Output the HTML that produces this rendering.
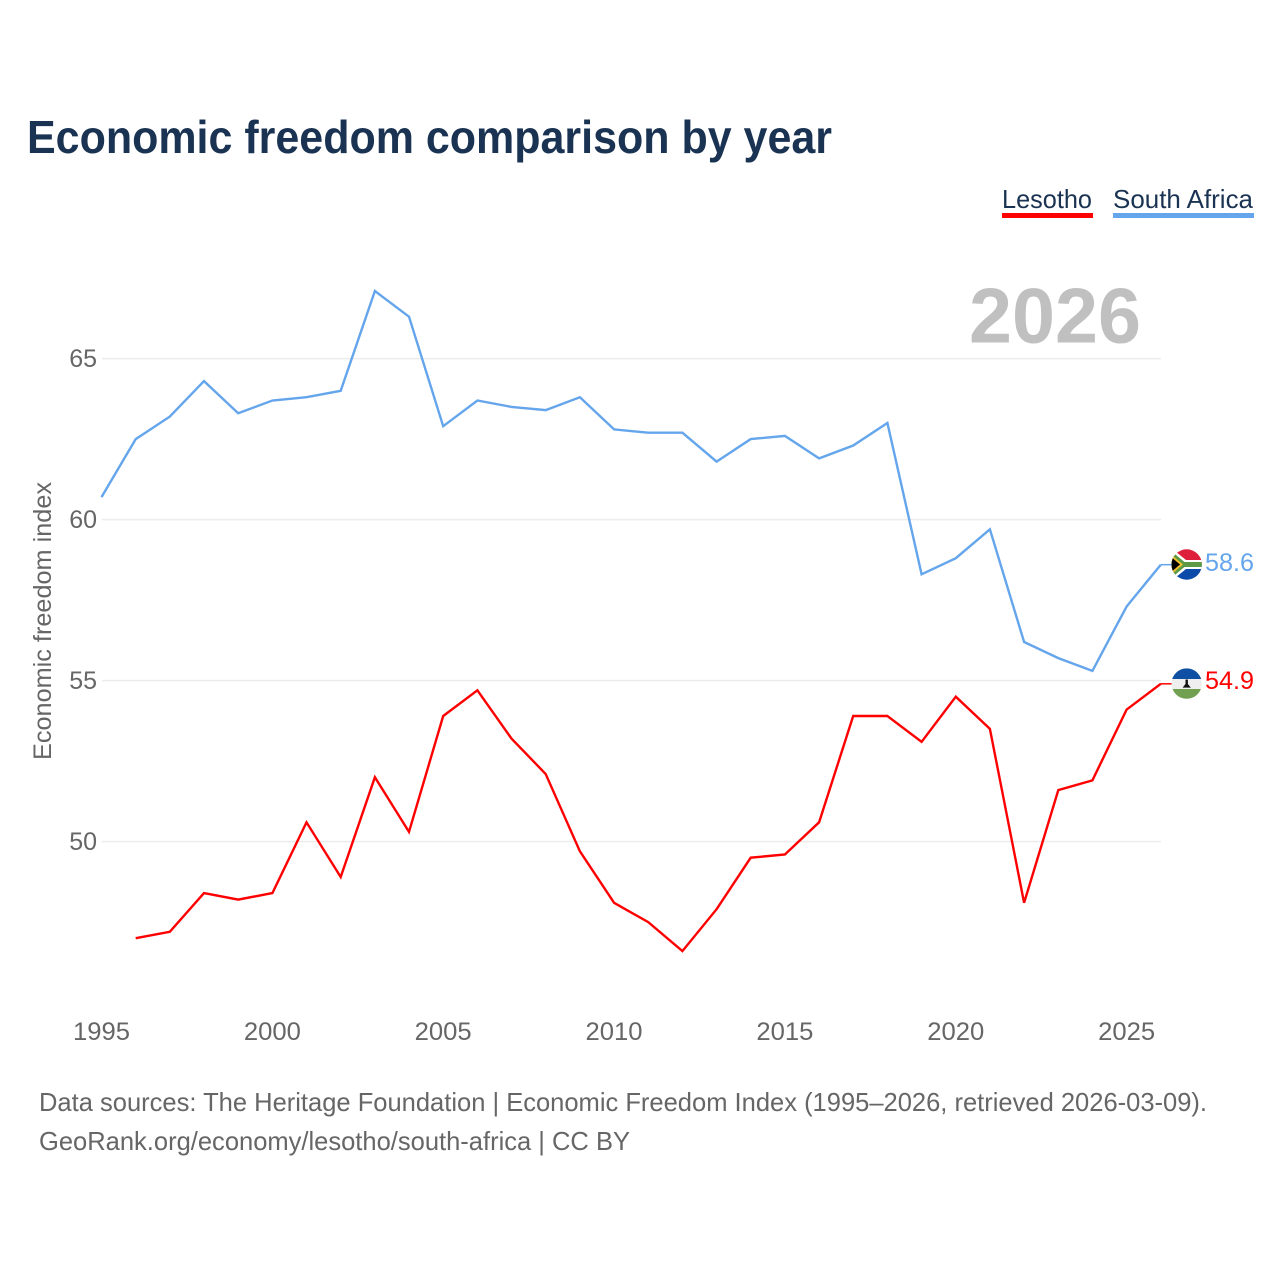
<!DOCTYPE html>
<html lang="en">
<head>
<meta charset="utf-8">
<title>Economic freedom comparison by year</title>
<style>
html,body{margin:0;padding:0;background:#fff;width:1280px;height:1280px;overflow:hidden}
svg{display:block}
text{font-family:"Liberation Sans",sans-serif}
</style>
</head>
<body>
<svg id="chart" xmlns="http://www.w3.org/2000/svg" width="1280" height="1280" viewBox="0 0 1280 1280">
  <defs>
    <clipPath id="clip-za"><circle cx="1186.7" cy="564.5" r="15.2"/></clipPath>
    <clipPath id="clip-ls"><circle cx="1186.7" cy="683.6" r="15.2"/></clipPath>
  </defs>
  <rect x="0" y="0" width="1280" height="1280" fill="#fff"/>
  <text x="27" y="153" font-size="46" font-weight="700" fill="#1a3352" textLength="805" lengthAdjust="spacingAndGlyphs">Economic freedom comparison by year</text>

  <text x="1002" y="208" font-size="26" fill="#1a3352" textLength="90" lengthAdjust="spacingAndGlyphs">Lesotho</text>
  <rect x="1002" y="213" width="91" height="5" fill="#ff0000"/>
  <text x="1113" y="208" font-size="26" fill="#1a3352" textLength="140" lengthAdjust="spacingAndGlyphs">South Africa</text>
  <rect x="1113" y="213" width="141" height="5" fill="#64a5ec"/>

  <text x="1141" y="342.5" font-size="78" font-weight="700" fill="#c0c0c0" text-anchor="end" textLength="172" lengthAdjust="spacingAndGlyphs">2026</text>

  <g id="grid"></g>
  <g id="yticks"></g>
  <g id="xticks"></g>
  <text transform="translate(51,621) rotate(-90)" font-size="25" fill="#666" text-anchor="middle" textLength="278" lengthAdjust="spacingAndGlyphs">Economic freedom index</text>

  <g id="series"></g>

  <g clip-path="url(#clip-za)">
    <rect x="1170" y="548" width="34" height="16.5" fill="#de1f3c"/>
    <rect x="1170" y="564.5" width="34" height="16.5" fill="#0a4aa8"/>
    <path d="M1170 547 L1186 560 H1204 V569 H1186 L1170 582 Z" fill="#fff"/>
    <path d="M1170 550 L1184.5 562 H1204 V567 H1184.5 L1170 579 Z" fill="#5d9a45"/>
    <path d="M1170 553.5 L1183 564.5 L1170 575.5 Z" fill="#f5c02c"/>
    <path d="M1170 556 L1180 564.5 L1170 573 Z" fill="#000"/>
  </g>
  <g clip-path="url(#clip-ls)">
    <rect x="1170" y="668" width="34" height="11" fill="#0f50a5"/>
    <rect x="1170" y="679" width="34" height="10" fill="#efefef"/>
    <rect x="1170" y="689" width="34" height="11" fill="#70a050"/>
    <path d="M1185.5 679.5 H1187.9 V684 L1190.8 687.6 H1182.6 L1185.5 684 Z" fill="#111"/>
  </g>

  <text x="1205" y="571" font-size="25" fill="#64a5ec" textLength="49" lengthAdjust="spacingAndGlyphs">58.6</text>
  <text x="1205" y="689" font-size="25" fill="#ff0000" textLength="49" lengthAdjust="spacingAndGlyphs">54.9</text>

  <text x="39" y="1111" font-size="26" fill="#666" textLength="1168" lengthAdjust="spacingAndGlyphs">Data sources: The Heritage Foundation | Economic Freedom Index (1995–2026, retrieved 2026-03-09).</text>
  <text x="39" y="1150" font-size="26" fill="#666" textLength="591" lengthAdjust="spacingAndGlyphs">GeoRank.org/economy/lesotho/south-africa | CC BY</text>
</svg>
<script>
const yTickValues = [65, 60, 55, 50];
const xTickValues = [1995, 2000, 2005, 2010, 2015, 2020, 2025];
const southAfricaYears = [1995,1996,1997,1998,1999,2000,2001,2002,2003,2004,2005,2006,2007,2008,2009,2010,2011,2012,2013,2014,2015,2016,2017,2018,2019,2020,2021,2022,2023,2024,2025,2026];
const southAfricaValues = [60.7,62.5,63.2,64.3,63.3,63.7,63.8,64.0,67.1,66.3,62.9,63.7,63.5,63.4,63.8,62.8,62.7,62.7,61.8,62.5,62.6,61.9,62.3,63.0,58.3,58.8,59.7,56.2,55.7,55.3,57.3,58.6];
const lesothoYears = [1996,1997,1998,1999,2000,2001,2002,2003,2004,2005,2006,2007,2008,2009,2010,2011,2012,2013,2014,2015,2016,2017,2018,2019,2020,2021,2022,2023,2024,2025,2026];
const lesothoValues = [47.0,47.2,48.4,48.2,48.4,50.6,48.9,52.0,50.3,53.9,54.7,53.2,52.1,49.7,48.1,47.5,46.6,47.9,49.5,49.6,50.6,53.9,53.9,53.1,54.5,53.5,48.1,51.6,51.9,54.1,54.9];

const SVG_NS = 'http://www.w3.org/2000/svg';
function xScale(year) { return 101.5 + (year - 1995) * 34.17; }
function yScale(value) { return 358.6 + (65 - value) * 32.2; }

const grid = document.getElementById('grid');
const yticks = document.getElementById('yticks');
const xticks = document.getElementById('xticks');
const series = document.getElementById('series');

yTickValues.forEach(function (v) {
  const line = document.createElementNS(SVG_NS, 'line');
  
  
  line.setAttribute('x1', 102);
  line.setAttribute('x2', 1161);
  line.setAttribute('y1', yScale(v));
  line.setAttribute('y2', yScale(v));
  line.setAttribute('stroke', '#ececec');
  line.setAttribute('stroke-width', '1.5');
  grid.appendChild(line);

  const label = document.createElementNS(SVG_NS, 'text');
  
  
  label.setAttribute('x', 97);
  label.setAttribute('y', yScale(v) + 8.4);
  label.setAttribute('text-anchor', 'end');
  label.setAttribute('font-size', '25');
  label.setAttribute('fill', '#666');
  label.textContent = String(v);
  yticks.appendChild(label);
});

xTickValues.forEach(function (year) {
  const label = document.createElementNS(SVG_NS, 'text');
  
  
  label.setAttribute('x', xScale(year));
  label.setAttribute('y', 1040);
  label.setAttribute('text-anchor', 'middle');
  label.setAttribute('font-size', '25');
  label.setAttribute('fill', '#666');
  label.setAttribute('textLength', '57');
  label.setAttribute('lengthAdjust', 'spacingAndGlyphs');
  label.textContent = String(year);
  xticks.appendChild(label);
});

function pointsFor(years, values) {
  return years.map(function (year, i) {
    return xScale(year).toFixed(1) + ',' + yScale(values[i]).toFixed(1);
  }).join(' ');
}

const southAfricaLine = document.createElementNS(SVG_NS, 'polyline');


southAfricaLine.setAttribute('points', pointsFor(southAfricaYears, southAfricaValues));
southAfricaLine.setAttribute('fill', 'none');
southAfricaLine.setAttribute('stroke', '#64a5ec');
southAfricaLine.setAttribute('stroke-width', '2.4');
series.appendChild(southAfricaLine);

const lesothoLine = document.createElementNS(SVG_NS, 'polyline');


lesothoLine.setAttribute('points', pointsFor(lesothoYears, lesothoValues));
lesothoLine.setAttribute('fill', 'none');
lesothoLine.setAttribute('stroke', '#ff0000');
lesothoLine.setAttribute('stroke-width', '2.4');
series.appendChild(lesothoLine);

const southAfricaConnector = document.createElementNS(SVG_NS, 'line');


southAfricaConnector.setAttribute('x1', xScale(2026));
southAfricaConnector.setAttribute('x2', 1172);
southAfricaConnector.setAttribute('y1', yScale(southAfricaValues[southAfricaValues.length - 1]));
southAfricaConnector.setAttribute('y2', yScale(southAfricaValues[southAfricaValues.length - 1]));
southAfricaConnector.setAttribute('stroke', '#64a5ec');
southAfricaConnector.setAttribute('stroke-width', '1.5');
series.appendChild(southAfricaConnector);

const lesothoConnector = document.createElementNS(SVG_NS, 'line');


lesothoConnector.setAttribute('x1', xScale(2026));
lesothoConnector.setAttribute('x2', 1172);
lesothoConnector.setAttribute('y1', yScale(lesothoValues[lesothoValues.length - 1]));
lesothoConnector.setAttribute('y2', yScale(lesothoValues[lesothoValues.length - 1]));
lesothoConnector.setAttribute('stroke', '#ff0000');
lesothoConnector.setAttribute('stroke-width', '1.5');
series.appendChild(lesothoConnector);
</script>
</body>
</html>
